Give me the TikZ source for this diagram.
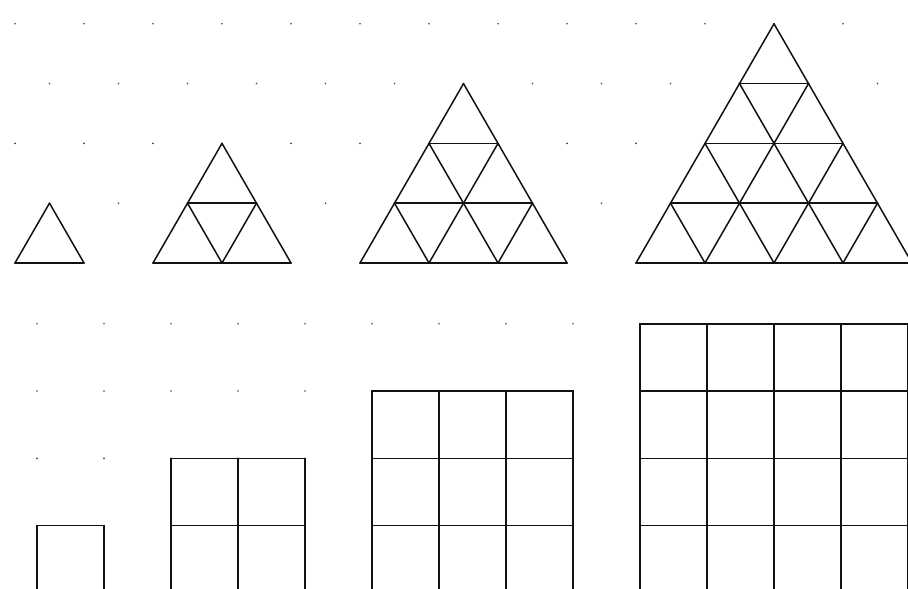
\documentclass[tikz,border=0pt]{standalone}
\usepackage{xcolor}
\definecolor{dotGray} {HTML}{444444}
\definecolor{lineInk} {HTML}{111111}
\tikzset{
  griddot/.style  = {fill=dotGray},
  triedge/.style  = {line width=1.5pt, color=lineInk, line cap=round, line join=round},
  sqedge/.style   = {line width=1.5pt, color=lineInk, line cap=rect},
}
% triangle of side #2 on the isometric lattice, left corner at index #1
\newcommand{\trifigure}[2]{%
  \pgfmathtruncatemacro{\lastrow}{#2-1}
  \foreach \k in {0,...,\lastrow} {
    \draw[triedge] ({#1},\k) -- ({#1+#2-\k},\k);
    \draw[triedge] ({#1+\k},0) -- ({#1+\k},{#2-\k});
    \draw[triedge] ({#1+\k+1},0) -- ({#1},{\k+1});
  }}
% square of side #2 on the square lattice, left edge at index #1
\newcommand{\sqfigure}[2]{%
  \foreach \k in {0,...,#2} {
    \draw[sqedge] ({#1+\k},0) -- ({#1+\k},#2);
    \draw[sqedge] ({#1},\k) -- ({#1+#2},\k);
  }}
\begin{document}
\begin{tikzpicture}[x=1pt, y=1pt]

  \useasboundingbox (0,0) rectangle (908,589);
  \fill[white] (0,0) rectangle (908,589);
  \clip (0,0) rectangle (908,589);

  % ---- Isometric lattice with triangles (top half) ----
  \begin{scope}[shift={(15,326)}, x={(69pt,0pt)}, y={(34.5pt,59.8pt)}]
    \foreach \j in {0,...,4}
      \foreach \i in {-3,...,14}
        \fill[griddot] (\i,\j) circle[radius=0.9pt];
    \trifigure{0}{1}
    \trifigure{2}{2}
    \trifigure{5}{3}
    \trifigure{9}{4}
  \end{scope}

  % ---- Square lattice with squares (bottom half) ----
  \begin{scope}[shift={(37,-4)}, x={(67pt,0pt)}, y={(0pt,67.3pt)}]
    \foreach \j in {1,...,4}
      \foreach \i in {0,...,13}
        \fill[griddot] (\i,\j) circle[radius=0.9pt];
    \sqfigure{0}{1}
    \sqfigure{2}{2}
    \sqfigure{5}{3}
    \sqfigure{9}{4}
  \end{scope}

\end{tikzpicture}
\end{document}
